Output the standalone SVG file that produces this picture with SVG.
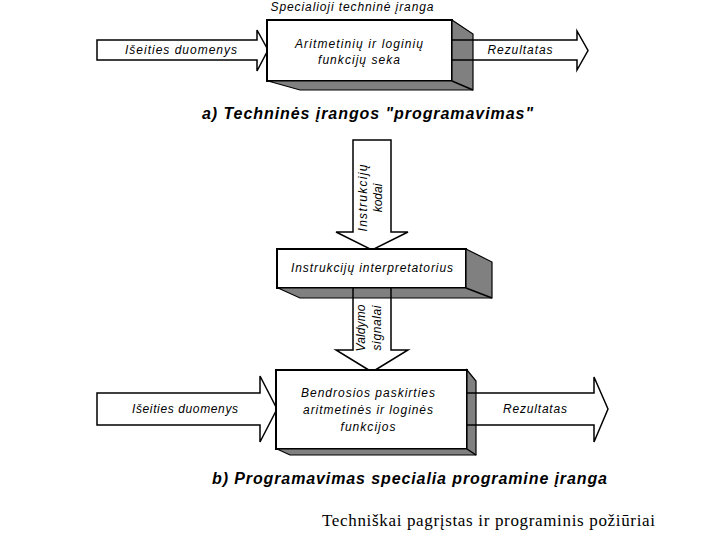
<svg xmlns="http://www.w3.org/2000/svg" width="720" height="540" viewBox="0 0 720 540">
<style>
.arrow{fill:#fff;stroke:#000;stroke-width:1.5;stroke-linejoin:miter}
.box{fill:#fff;stroke:#000;stroke-width:2}
.shadow{fill:#808080;stroke:#000;stroke-width:1.2;stroke-linejoin:miter}
.edge{stroke:#000;stroke-width:1.5;fill:none}
.lbl{font-family:"Liberation Sans",Arial,sans-serif;font-style:italic;font-size:12px;fill:#000;text-anchor:middle}
.title{font-family:"Liberation Sans",Arial,sans-serif;font-style:italic;font-weight:bold;font-size:16px;fill:#000;text-anchor:middle}
.cap{font-family:"Liberation Serif","Times New Roman",serif;font-size:17px;fill:#000;text-anchor:middle}
</style>
<rect width="720" height="540" fill="#fff"/>

<g id="connectors">
  <polygon class="arrow" points="97,40 257,40 257,30 268,50 257,71 257,60 97,60"/>
  <polygon class="arrow" points="440,40 577,40 577,31 588,50.5 577,70 577,60 440,60"/>
  <polygon class="arrow" points="353,140 391,140 391,232 408,232 372,250 336,232 353,232"/>
  <polygon class="arrow" points="353,280 391,280 391,350 408,350 372,372 336,350 353,350"/>
  <polygon class="arrow" points="97,393 260,393 260,376 277,409 260,442 260,425 97,425"/>
  <polygon class="arrow" points="450,393 594,393 594,377 608,409 594,442 594,425 450,425"/>
  <text class="lbl" x="181" y="54" textLength="112" lengthAdjust="spacing">Išeities duomenys</text>
  <text class="lbl" x="520" y="54" textLength="65" lengthAdjust="spacing">Rezultatas</text>
  <g transform="translate(367,198) rotate(-90)">
    <text class="lbl" x="0" y="0" textLength="67" lengthAdjust="spacing">Instrukcijų</text>
    <text class="lbl" x="0" y="15">kodai</text>
  </g>
  <g transform="translate(365,328) rotate(-90)">
    <text class="lbl" x="0" y="0" textLength="47" lengthAdjust="spacing">Valdymo</text>
    <text class="lbl" x="0" y="16" textLength="45" lengthAdjust="spacing">signalai</text>
  </g>
  <text class="lbl" x="185" y="413" textLength="106" lengthAdjust="spacing">Išeities duomenys</text>
  <text class="lbl" x="535" y="413" textLength="64" lengthAdjust="spacing">Rezultatas</text>
</g>

<g id="node-special-hw">
  <text class="lbl" x="352" y="10.5" textLength="163" lengthAdjust="spacing">Specialioji techninė įranga</text>
  <rect class="box" x="267" y="20" width="185" height="61"/>
  <polygon class="shadow" points="452,20 473,34 473,90 300,90 268,81 452,81"/>
  <line class="edge" x1="452" y1="81" x2="473" y2="90"/>
  <line class="edge" x1="452" y1="40" x2="473" y2="40"/>
  <line class="edge" x1="452" y1="60" x2="473" y2="60"/>
  <text class="lbl" x="359" y="48" textLength="128" lengthAdjust="spacing">Aritmetinių ir loginių</text>
  <text class="lbl" x="359" y="64" textLength="82" lengthAdjust="spacing">funkcijų seka</text>
</g>

<g id="node-interpreter">
  <rect class="box" x="277" y="249" width="189" height="39"/>
  <polygon class="shadow" points="466,249 492,262 492,298 300,298 278,288 466,288"/>
  <line class="edge" x1="466" y1="288" x2="492" y2="298"/>
  <line class="edge" x1="353" y1="288" x2="353" y2="298"/>
  <line class="edge" x1="391" y1="288" x2="391" y2="298"/>
  <text class="lbl" x="372" y="272" textLength="162" lengthAdjust="spacing">Instrukcijų interpretatorius</text>
</g>

<g id="node-general">
  <rect class="box" x="276" y="370" width="191" height="79"/>
  <polygon class="shadow" points="467,370 476,381 476,455 290,455 277,449 467,449"/>
  <line class="edge" x1="467" y1="449" x2="476" y2="455"/>
  <line class="edge" x1="467" y1="393" x2="476" y2="393"/>
  <line class="edge" x1="467" y1="425" x2="476" y2="425"/>
  <text class="lbl" x="368" y="397" textLength="134" lengthAdjust="spacing">Bendrosios paskirties</text>
  <text class="lbl" x="368" y="414" textLength="130" lengthAdjust="spacing">aritmetinės ir loginės</text>
  <text class="lbl" x="368" y="431" textLength="55" lengthAdjust="spacing">funkcijos</text>
</g>

<g id="titles">
  <text class="title" x="367.5" y="119" textLength="331" lengthAdjust="spacing">a) Techninės įrangos "programavimas"</text>
  <text class="title" x="409.5" y="484" textLength="395" lengthAdjust="spacing">b) Programavimas specialia programine įranga</text>
  <text class="cap" x="488.5" y="526" textLength="333" lengthAdjust="spacing">Techniškai pagrįstas ir programinis požiūriai</text>
</g>
</svg>
